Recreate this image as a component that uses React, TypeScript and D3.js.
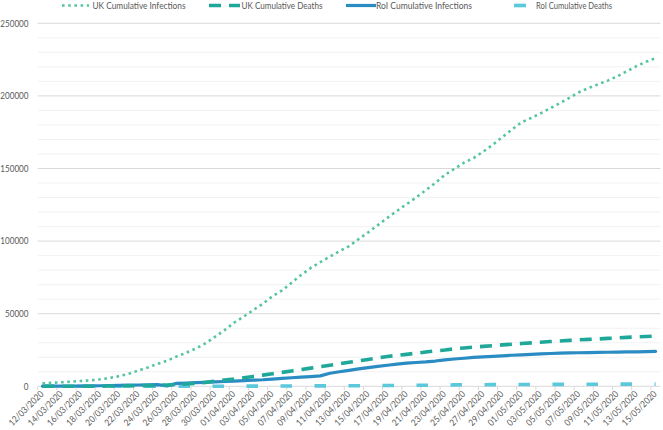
import React from "react";
import * as d3 from "d3";

const dates = [
  "12/03/2020","13/03/2020","14/03/2020","15/03/2020","16/03/2020","17/03/2020","18/03/2020","19/03/2020","20/03/2020","21/03/2020",
  "22/03/2020","23/03/2020","24/03/2020","25/03/2020","26/03/2020","27/03/2020","28/03/2020","29/03/2020","30/03/2020","31/03/2020",
  "01/04/2020","02/04/2020","03/04/2020","04/04/2020","05/04/2020","06/04/2020","07/04/2020","08/04/2020","09/04/2020","10/04/2020",
  "11/04/2020","12/04/2020","13/04/2020","14/04/2020","15/04/2020","16/04/2020","17/04/2020","18/04/2020","19/04/2020","20/04/2020",
  "21/04/2020","22/04/2020","23/04/2020","24/04/2020","25/04/2020","26/04/2020","27/04/2020","28/04/2020","29/04/2020","30/04/2020",
  "01/05/2020","02/05/2020","03/05/2020","04/05/2020","05/05/2020","06/05/2020","07/05/2020","08/05/2020","09/05/2020","10/05/2020",
  "11/05/2020","12/05/2020","13/05/2020","14/05/2020","15/05/2020",
];

const ukInfections = [
  2000, 2400, 2800, 3200, 3700, 4100, 4800, 5700, 7000, 8600,
  10800, 13000, 15400, 17600, 20500, 23100, 26000, 29500, 34000, 38700,
  43800, 48000, 52500, 56800, 62000, 66000, 71300, 76700, 81500, 85500,
  89300, 93000, 96500, 101400, 106000, 111000, 116000, 120800, 125400, 130000,
  135000, 140000, 145500, 149800, 154000, 157200, 161600, 166300, 171600, 176800,
  181800, 184800, 188000, 191500, 195000, 198700, 202500, 205400, 208000, 210500,
  213500, 217000, 220500, 223500, 226000,
];

const ukDeaths = [
  10, 20, 25, 40, 60, 80, 110, 180, 240, 300,
  420, 500, 700, 900, 1200, 1600, 2100, 2700, 3500, 4300,
  5000, 5900, 6800, 7700, 8600, 9600, 10600, 11600, 12500, 13500,
  14500, 15500, 16500, 17600, 18500, 19500, 20500, 21300, 22000, 22800,
  23600, 24400, 25000, 25800, 26400, 27000, 27500, 28000, 28500, 29000,
  29500, 29900, 30300, 30800, 31200, 31600, 32000, 32300, 32600, 33000,
  33300, 33700, 34000, 34300, 34600,
];

const roiInfections = [
  100, 130, 150, 170, 220, 290, 370, 560, 680, 790,
  910, 1000, 1200, 250, 2000, 2200, 2500, 2750, 3000, 3300,
  3600, 3900, 4200, 4500, 5000, 5400, 5900, 6300, 6700, 7200,
  9000, 10000, 11000, 12000, 12900, 13700, 14500, 15300, 15900, 16400,
  16800, 17400, 18200, 18800, 19300, 19900, 20300, 20600, 21000, 21400,
  21700, 22000, 22300, 22600, 22800, 23000, 23100, 23250, 23350, 23450,
  23550, 23650, 23750, 23900, 24100,
];

const roiDeaths = [
  1, 1, 2, 2, 2, 2, 2, 3, 3, 3,
  4, 6, 7, 9, 19, 22, 36, 46, 54, 71,
  85, 98, 120, 137, 158, 174, 210, 235, 263, 288,
  320, 334, 365, 406, 444, 486, 530, 571, 610, 687,
  730, 769, 794, 1014, 1063, 1087, 1102, 1159, 1190, 1232,
  1265, 1286, 1303, 1319, 1339, 1375, 1403, 1429, 1446, 1458,
  1467, 1488, 1497, 1506, 1518,
];

const yTicks = [0, 50000, 100000, 150000, 200000, 250000];
const yMinor = [10000, 20000, 30000, 40000, 60000, 70000, 80000, 90000, 110000, 120000, 130000, 140000, 160000, 170000, 180000, 190000, 210000, 220000, 230000, 240000];

const seriesNames = ["UK Cumulative Infections", "UK Cumulative Deaths", "RoI Cumulative Infections", "RoI Cumulative Deaths"];

const W = 663, H = 430;
const left = 37.7, right = 660.4, top = 23.3, bottom = 386.3;
const FONT = "Lato, 'Open Sans', sans-serif";
const TEXT = "#595959";

export default function App() {
  const x = d3.scaleBand<string>().domain(dates).range([left, right]).padding(0);
  const bw = x.bandwidth();
  const cx = (d: string) => (x(d) as number) + bw / 2;
  const y = d3.scaleLinear().domain([0, 250000]).range([bottom, top]);
  const line = d3.line<number>().x((_, i) => cx(dates[i])).y((v) => y(v));

  const series = [
    { name: seriesNames[0], data: ukInfections, color: "#55C4A2", width: 2.6, dash: "2.6 3.6", cap: "butt" },
    { name: seriesNames[1], data: ukDeaths, color: "#1FA89A", width: 3.6, dash: "12 8", cap: "butt" },
    { name: seriesNames[2], data: roiInfections, color: "#2B8CC4", width: 3.2, dash: "", cap: "round" },
    { name: seriesNames[3], data: roiDeaths, color: "#5BC8DC", width: 3.6, dash: "11.5 22.5", cap: "butt" },
  ];

  const tickIdx = d3.range(0, dates.length + 1, 2);

  const legend = [
    { x1: 62, x2: 89, tx: 92.5, tl: 93 },
    { x1: 209, x2: 240, tx: 241.5, tl: 81 },
    { x1: 346, x2: 376, tx: 376, tl: 96 },
    { x1: 514, x2: 526, tx: 536, tl: 76 },
  ];

  return (
    <svg width={W} height={H} style={{ position: "absolute", left: 0, top: 0, background: "#fff" }} fontFamily={FONT}>
      {yMinor.map((v) => (
        <line key={"m" + v} x1={left} x2={right} y1={y(v)} y2={y(v)} stroke="#F2F2F2" strokeWidth={1} />
      ))}
      {yTicks.map((v) => {
        const s = String(v);
        return (
          <g key={"t" + v}>
            <line x1={left} x2={right} y1={y(v)} y2={y(v)} stroke="#D9D9D9" strokeWidth={1} />
            <text x={28.5} y={y(v)} dy="0.35em" textAnchor="end" fontSize={9.2} fill={TEXT}
              textLength={s.length * 4.7} lengthAdjust="spacingAndGlyphs">{s}</text>
          </g>
        );
      })}
      {tickIdx.map((i) => (
        <line key={"tk" + i} x1={left + i * bw} x2={left + i * bw} y1={bottom} y2={bottom + 4} stroke="#D9D9D9" />
      ))}
      {dates.map((d, i) =>
        i % 2 === 0 ? (
          <text key={d} transform={`translate(${cx(d) - 0.5},${bottom + 6}) rotate(-45)`} textAnchor="end" dy="0.35em" fontSize={9.2} fill={TEXT}
            textLength={45} lengthAdjust="spacingAndGlyphs">{d}</text>
        ) : null
      )}
      {series.slice().reverse().map((s) => (
        <path key={s.name} d={line(s.data) as string} fill="none" stroke={s.color} strokeWidth={s.width}
          strokeDasharray={s.dash || undefined} strokeLinecap={s.cap as any} strokeLinejoin="round" />
      ))}
      {series.map((s, i) => (
        <g key={"lg" + i}>
          <line x1={legend[i].x1} x2={legend[i].x2} y1={5.5} y2={5.5} stroke={s.color} strokeWidth={s.width}
            strokeDasharray={i === 3 ? undefined : s.dash || undefined} strokeLinecap="butt" />
          <text x={legend[i].tx} y={5.5} dy="0.35em" fontSize={9.2} fill={TEXT}
            textLength={legend[i].tl} lengthAdjust="spacingAndGlyphs">{s.name}</text>
        </g>
      ))}
    </svg>
  );
}
